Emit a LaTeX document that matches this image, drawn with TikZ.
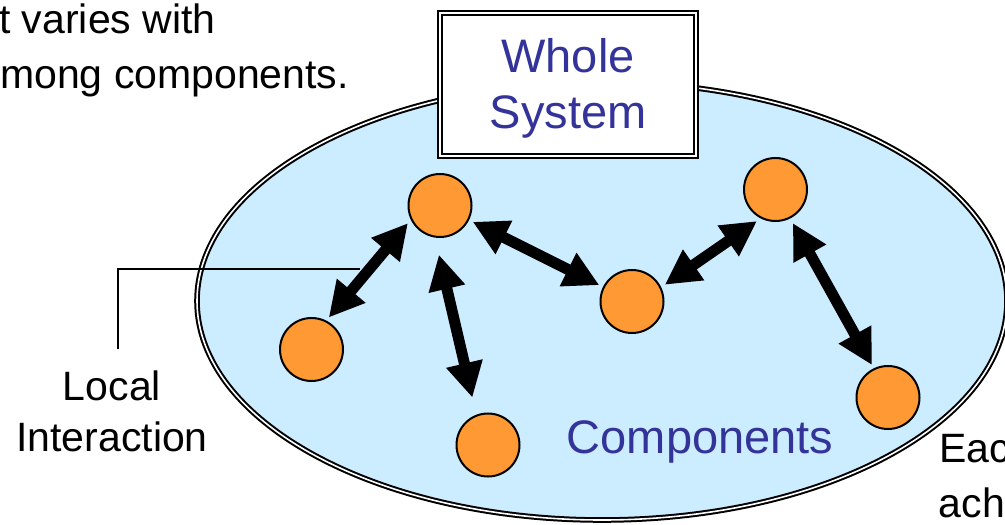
\documentclass[tikz,border=0pt]{standalone}
\usepackage{fontspec}
\setmainfont{Liberation Sans}
\usetikzlibrary{arrows.meta,calc}
\definecolor{skyfill}{RGB}{204,236,255}
\definecolor{orangefill}{RGB}{255,153,51}
\definecolor{labelblue}{RGB}{51,51,153}
\begin{document}
\begin{tikzpicture}[x=1pt,y=-1pt,
  comp/.style={circle,draw=black,line width=2pt,fill=orangefill,minimum size=63pt,inner sep=0pt},
  link/.style={line width=11pt,{Triangle[length=35pt,width=35pt]}-{Triangle[length=35pt,width=35pt]}},
  sysbox/.style={rectangle,draw=black,fill=white,line width=2.2pt,double=white,double distance=2pt,
    minimum width=255.6pt,minimum height=142.6pt,inner sep=0pt},
  bluetext/.style={text=labelblue,font=\fontsize{47}{56}\selectfont,inner sep=0pt},
  blacktext/.style={text=black,font=\fontsize{41}{51}\selectfont,inner sep=0pt},
  leader/.style={draw=black,line width=2.4pt}
]
\useasboundingbox (0,0) rectangle (1005,525);

% whole system ellipse
\path[fill=skyfill,draw=black,line width=2pt,double=white,double distance=1.6pt]
  (602,301) ellipse [x radius=405pt, y radius=219pt];

% title box
\node[sysbox] (box) at (568,84.5) {};
\node[bluetext,align=center] (title) at ($(box.center)+(0,3.6)$) {Whole\\System};

% top-left text (cut off)
\node[blacktext,anchor=base west] (tl1) at (-1,33) {t varies with};
\node[blacktext,anchor=base west] (tl2) at (0,88) {mong components.};

% components
\node[comp] (c1) at (440,205.5) {};
\node[comp] (c2) at (632,301.5) {};
\node[comp] (c3) at (775.5,189.5) {};
\node[comp] (c4) at (888,397.5) {};
\node[comp] (c5) at (311.5,349.5) {};
\node[comp] (c6) at (488,445) {};

% leader line
\coordinate (leadend) at (360,269);
\coordinate (leadfoot) at (118,349);
\draw[leader] (leadfoot) |- (leadend);

% interactions
\draw[link,shorten <=4.4pt,shorten >=3.9pt] (c1.206.6) -- (c5.63.1);
\draw[link,shorten <=17.5pt,shorten >=17.5pt] (c1.261) -- (c6.111.5);
\draw[link,shorten <=4pt,shorten >=4pt] (c1) -- (c2);
\draw[link,shorten <=4.4pt,shorten >=4.6pt] (c2.26.6) -- (c3.243.6);
\draw[link,shorten <=5.3pt,shorten >=3.7pt] (c3.297.6) -- (c4.116.2);

% labels
\node[blacktext,align=center] (local) at (112,411) {Local\\Interaction};
\node[bluetext,anchor=base west] (complabel) at (566.7,453) {Components};
\node[blacktext,anchor=base west] (br1) at (939,462) {Eac};
\node[blacktext,anchor=base west] (br2) at (938.5,517) {ach};
\end{tikzpicture}
\end{document}
